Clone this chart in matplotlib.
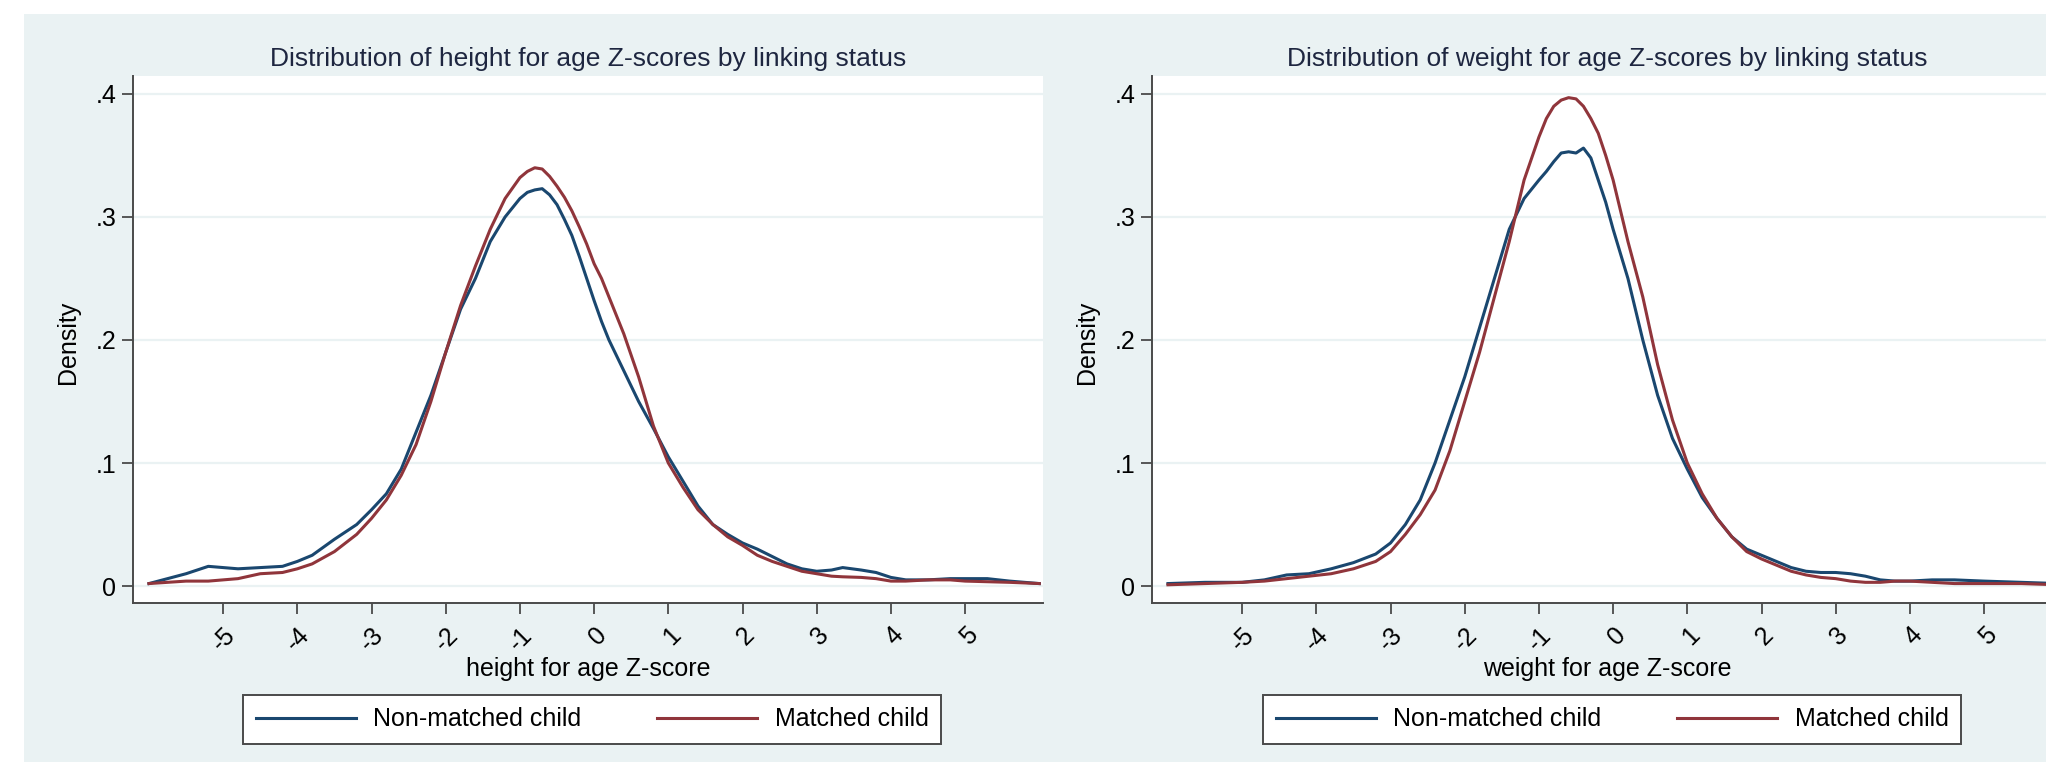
import numpy as np
import matplotlib
matplotlib.use('Agg')
import matplotlib.pyplot as plt
from matplotlib.patches import Rectangle

plt.rcParams['font.family'] = ['Liberation Sans', 'DejaVu Sans']

# Height for age density curves
hfa_x = [-6, -5.5, -5.2, -4.8, -4.5, -4.2, -4.0, -3.8, -3.5, -3.2, -3.0, -2.8, -2.6, -2.4,
         -2.2, -2.0, -1.8, -1.6, -1.4, -1.2, -1.0, -0.9, -0.8, -0.7, -0.6, -0.5, -0.4, -0.3,
         -0.2, -0.1, 0.0, 0.1, 0.2, 0.4, 0.6, 0.8, 1.0, 1.2, 1.4, 1.6, 1.8, 2.0, 2.2, 2.4,
         2.6, 2.8, 3.0, 3.2, 3.35, 3.6, 3.8, 4.0, 4.2, 4.5, 4.8, 5.0, 5.3, 5.6, 6.0]
hfa_nonmatched = [0.002, 0.01, 0.016, 0.014, 0.015, 0.016, 0.02, 0.025, 0.038, 0.05, 0.062,
                  0.075, 0.095, 0.125, 0.155, 0.19, 0.225, 0.25, 0.28, 0.30, 0.315, 0.32,
                  0.322, 0.323, 0.318, 0.31, 0.298, 0.285, 0.268, 0.25, 0.232, 0.215, 0.2,
                  0.175, 0.15, 0.128, 0.105, 0.085, 0.065, 0.05, 0.042, 0.035, 0.03, 0.024,
                  0.018, 0.014, 0.012, 0.013, 0.015, 0.013, 0.011, 0.007, 0.005, 0.005,
                  0.006, 0.006, 0.006, 0.004, 0.002]
hfa_matched = [0.002, 0.004, 0.004, 0.006, 0.01, 0.011, 0.014, 0.018, 0.028, 0.042, 0.055,
               0.07, 0.09, 0.115, 0.15, 0.19, 0.228, 0.26, 0.29, 0.315, 0.332, 0.337, 0.34,
               0.339, 0.333, 0.325, 0.316, 0.305, 0.292, 0.278, 0.262, 0.25, 0.235, 0.205,
               0.17, 0.13, 0.1, 0.08, 0.062, 0.05, 0.04, 0.033, 0.025, 0.02, 0.016, 0.012,
               0.01, 0.008, 0.0075, 0.007, 0.006, 0.004, 0.004, 0.005, 0.005, 0.004, 0.0035,
               0.003, 0.002]

# Weight for age density curves
wfa_x = [-6, -5.5, -5.0, -4.7, -4.4, -4.1, -3.8, -3.5, -3.2, -3.0, -2.8, -2.6, -2.4, -2.2,
         -2.0, -1.8, -1.6, -1.4, -1.2, -1.0, -0.9, -0.8, -0.7, -0.6, -0.5, -0.4, -0.3, -0.2,
         -0.1, 0.0, 0.2, 0.4, 0.6, 0.8, 1.0, 1.2, 1.4, 1.6, 1.8, 2.0, 2.2, 2.4, 2.6, 2.8,
         3.0, 3.2, 3.4, 3.6, 3.8, 4.0, 4.3, 4.6, 5.0, 5.5, 6.0]
wfa_nonmatched = [0.002, 0.003, 0.003, 0.005, 0.009, 0.01, 0.014, 0.019, 0.026, 0.035, 0.05,
                  0.07, 0.1, 0.135, 0.17, 0.21, 0.25, 0.29, 0.315, 0.33, 0.337, 0.345, 0.352,
                  0.353, 0.352, 0.356, 0.348, 0.33, 0.312, 0.29, 0.25, 0.2, 0.155, 0.12,
                  0.095, 0.072, 0.055, 0.04, 0.03, 0.025, 0.02, 0.015, 0.012, 0.011, 0.011,
                  0.01, 0.008, 0.005, 0.004, 0.004, 0.005, 0.005, 0.004, 0.003, 0.002]
wfa_matched = [0.001, 0.002, 0.003, 0.004, 0.006, 0.008, 0.01, 0.014, 0.02, 0.028, 0.042,
               0.058, 0.078, 0.11, 0.15, 0.19, 0.235, 0.28, 0.33, 0.365, 0.38, 0.39, 0.395,
               0.397, 0.396, 0.39, 0.38, 0.368, 0.35, 0.33, 0.28, 0.235, 0.18, 0.135, 0.1,
               0.075, 0.055, 0.04, 0.028, 0.022, 0.017, 0.012, 0.009, 0.007, 0.006, 0.004,
               0.003, 0.003, 0.004, 0.004, 0.003, 0.002, 0.002, 0.002, 0.001]

xticks = [-5, -4, -3, -2, -1, 0, 1, 2, 3, 4, 5]
xtick_labels = ['-5', '-4', '-3', '-2', '-1', '0', '1', '2', '3', '4', '5']
yticks = [0, 0.1, 0.2, 0.3, 0.4]
ytick_labels = ['0', '.1', '.2', '.3', '.4']

series_labels = ['Non-matched child', 'Matched child']
titles = ['Distribution of height for age Z-scores by linking status',
          'Distribution of weight for age Z-scores by linking status']
xlabels = ['height for age Z-score', 'weight for age Z-score']

BG = '#EAF2F3'
NAVY = '#1A476F'
MAROON = '#90353B'
AXC = '#4a4a4a'

W, H = 2046, 762
fig = plt.figure(figsize=(W / 100, H / 100), dpi=100, facecolor='white')
fig.patches.append(Rectangle((24 / W, 0), 1, (H - 14) / H, transform=fig.transFigure,
                             facecolor=BG, edgecolor='none', zorder=-10))

panels = [(hfa_x, hfa_nonmatched, hfa_matched), (wfa_x, wfa_nonmatched, wfa_matched)]
ax_left = [133, 1152]
legend_box = [(243, 941), (1263, 1961)]
ylabel_x = [68, 1087]

for i, (xs, blue, red) in enumerate(panels):
    ax = fig.add_axes([ax_left[i] / W, (H - 603) / H, 910 / W, 527 / H])
    ax.set_facecolor('white')
    ax.plot(xs, blue, color=NAVY, lw=2.2, label=series_labels[0], solid_joinstyle='round')
    ax.plot(xs, red, color=MAROON, lw=2.2, label=series_labels[1], solid_joinstyle='round')

    ax.set_xlim(-6.215, 6.05)
    ax.set_ylim(-0.0138, 0.4146)
    ax.set_yticks(yticks)
    ax.set_yticklabels(ytick_labels)
    ax.set_xticks(xticks)
    ax.set_xticklabels(xtick_labels, rotation=45, ha='right', va='top', rotation_mode='anchor')
    for y in yticks:
        ax.axhline(y, color=BG, lw=1.6, zorder=0)

    for s in ['top', 'right']:
        ax.spines[s].set_visible(False)
    for s in ['left', 'bottom']:
        ax.spines[s].set_color(AXC)
        ax.spines[s].set_linewidth(1.4)
    ax.tick_params(axis='both', direction='out', length=8, width=1.3, color=AXC,
                   labelsize=18, pad=4)
    ax.tick_params(axis='x', pad=6)

    ax.set_title(titles[i], fontsize=19, color='#1e2640', pad=7)
    ax.set_xlabel(xlabels[i], fontsize=18, va='center')
    ax.xaxis.set_label_coords(0.5, -0.125)
    fig.text(ylabel_x[i] / W, 1 - 342 / H, 'Density', rotation=90, fontsize=18,
             ha='center', va='center')

    x0, x1 = legend_box[i]
    leg = ax.legend(loc='center', bbox_to_anchor=(x0 / W, (H - 744) / H, (x1 - x0) / W, 49 / H),
                    bbox_transform=fig.transFigure, mode='expand', ncol=2, fontsize=18,
                    frameon=True, fancybox=False, framealpha=1, handlelength=4.0,
                    handletextpad=0.7, borderpad=0.5, borderaxespad=0)
    leg.get_frame().set_facecolor('white')
    leg.get_frame().set_edgecolor(AXC)
    leg.get_frame().set_linewidth(1.4)

fig.savefig('out.png', dpi=100, facecolor='white')
